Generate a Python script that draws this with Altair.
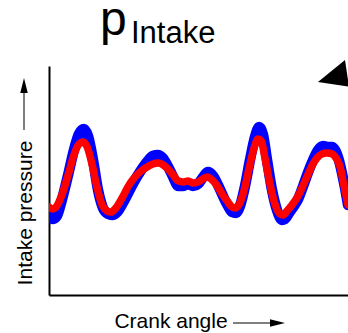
import altair as alt
import pandas as pd

# Crank angle (deg, arbitrary span) and intake pressure (relative units)
blue_angle = [0, 10, 19, 31, 46, 60, 72, 84, 94, 106, 118, 130, 142, 152, 164, 178, 193, 207, 222, 236,
              250, 262, 274, 287, 299, 311, 323, 335, 347, 359, 371, 383, 395, 407, 419, 431, 441, 450,
              460, 472, 484, 496, 506, 515, 525, 537, 549, 561, 568, 578, 588, 600, 612, 624, 636, 648,
              660, 672, 681, 689, 698, 708, 718, 720]
blue_pressure = [35.8, 33.2, 34.5, 41.5, 52.4, 63.3, 70.3, 72.5, 69.4, 59.0, 45.9, 38.0, 35.4, 34.9, 36.2,
                 40.2, 45.4, 50.2, 54.6, 58.1, 60.7, 61.1, 59.8, 55.9, 51.5, 47.6, 47.6, 48.5, 47.6, 48.5,
                 51.5, 53.7, 52.0, 48.0, 43.2, 38.9, 36.2, 35.8, 38.9, 47.6, 59.0, 69.0, 73.4, 70.3, 59.0,
                 45.9, 37.1, 32.8, 33.2, 35.8, 38.4, 41.9, 47.6, 53.7, 59.0, 63.3, 65.1, 64.6, 64.6, 63.3,
                 59.0, 51.1, 41.5, 39.3]

red_angle = [0, 10, 19, 31, 46, 60, 72, 82, 92, 104, 116, 128, 140, 149, 161, 176, 190, 205, 219, 236,
             250, 263, 275, 287, 299, 311, 323, 335, 347, 359, 371, 381, 393, 405, 417, 429, 438, 448,
             458, 470, 482, 494, 503, 511, 520, 532, 544, 556, 564, 573, 585, 597, 609, 621, 633, 645,
             657, 669, 682, 691, 701, 710, 720]
red_pressure = [38.4, 37.6, 38.9, 43.7, 52.4, 61.1, 65.9, 66.8, 64.6, 56.8, 46.7, 39.3, 36.7, 36.2, 38.0,
                42.4, 47.2, 51.1, 53.7, 55.9, 57.2, 57.6, 56.8, 55.0, 52.4, 49.8, 49.3, 49.8, 48.9, 49.3,
                50.7, 51.5, 50.2, 47.6, 44.1, 41.0, 38.9, 38.0, 39.7, 45.9, 55.5, 64.2, 68.1, 67.3, 59.8,
                48.5, 39.7, 35.4, 34.9, 36.7, 39.3, 42.4, 46.7, 51.5, 56.3, 59.8, 61.6, 62.0, 61.6, 59.8,
                55.9, 48.0, 39.3]

blue_df = pd.DataFrame({"angle": blue_angle, "pressure": blue_pressure})
red_df = pd.DataFrame({"angle": red_angle, "pressure": red_pressure})

FONT = "Liberation Sans"

x_enc = alt.X("angle:Q", scale=alt.Scale(domain=[0, 720], nice=False, zero=False),
              axis=alt.Axis(ticks=False, labels=False, grid=False, title=None,
                            domainColor="black", domainWidth=2))
y_enc = alt.Y("pressure:Q", scale=alt.Scale(domain=[0, 100], nice=False, zero=False),
              axis=alt.Axis(ticks=False, labels=False, grid=False, title=None,
                            domainColor="black", domainWidth=2))

blue = alt.Chart(blue_df).mark_line(color="#0000FF", strokeWidth=10.5, interpolate="monotone",
                                    strokeCap="round", clip=True).encode(x=x_enc, y=y_enc)
red = alt.Chart(red_df).mark_line(color="#FF0000", strokeWidth=7.5, interpolate="monotone",
                                  strokeCap="round", clip=True).encode(x=x_enc, y=y_enc)

title_p = alt.Chart().mark_text(text="p", font=FONT, fontSize=48, align="left",
                                baseline="alphabetic", color="black").encode(
    x=alt.value(51), y=alt.value(-31))
title_sub = alt.Chart().mark_text(text="Intake", font=FONT, fontSize=31, align="left",
                                  baseline="alphabetic", color="black").encode(
    x=alt.value(82), y=alt.value(-23))

ylabel = alt.Chart().mark_text(text="Intake pressure", font=FONT, fontSize=21, angle=270,
                               align="center", baseline="alphabetic", color="black").encode(
    x=alt.value(-17), y=alt.value(147))
y_arrow_line = alt.Chart().mark_rule(color="#555555", strokeWidth=1.5).encode(
    x=alt.value(-25), y=alt.value(64), y2=alt.value(24))
y_arrow_head = alt.Chart().mark_point(shape="M 0 -1 L 0.5 1 L -0.5 1 Z", filled=True,
                                      color="black", opacity=1, size=225).encode(
    x=alt.value(-25), y=alt.value(19.5))

xlabel = alt.Chart().mark_text(text="Crank angle", font=FONT, fontSize=21, align="center",
                               baseline="alphabetic", color="black").encode(
    x=alt.value(122), y=alt.value(262))
x_arrow_line = alt.Chart().mark_rule(color="#555555", strokeWidth=1.5).encode(
    x=alt.value(184), x2=alt.value(224), y=alt.value(257))
x_arrow_head = alt.Chart().mark_point(shape="M 1 0 L -1 -0.5 L -1 0.5 Z", filled=True,
                                      color="black", opacity=1, size=225).encode(
    x=alt.value(228.5), y=alt.value(257))

corner_tri = alt.Chart().mark_point(shape="M -0.94 0.56 L 0.75 -0.81 L 1 0.85 Z", filled=True,
                                    color="black", opacity=1, size=1024).encode(
    x=alt.value(284), y=alt.value(7))

chart = alt.layer(
    blue, red, title_p, title_sub, ylabel, y_arrow_line, y_arrow_head,
    xlabel, x_arrow_line, x_arrow_head, corner_tri
).properties(
    width=299, height=229,
    autosize=alt.AutoSizeParams(type="none"),
    padding={"left": 49, "top": 66, "right": 0, "bottom": 38},
    background="white",
).configure_view(stroke=None)

chart.save("out.html", embed_options={"renderer": "svg", "actions": False})
